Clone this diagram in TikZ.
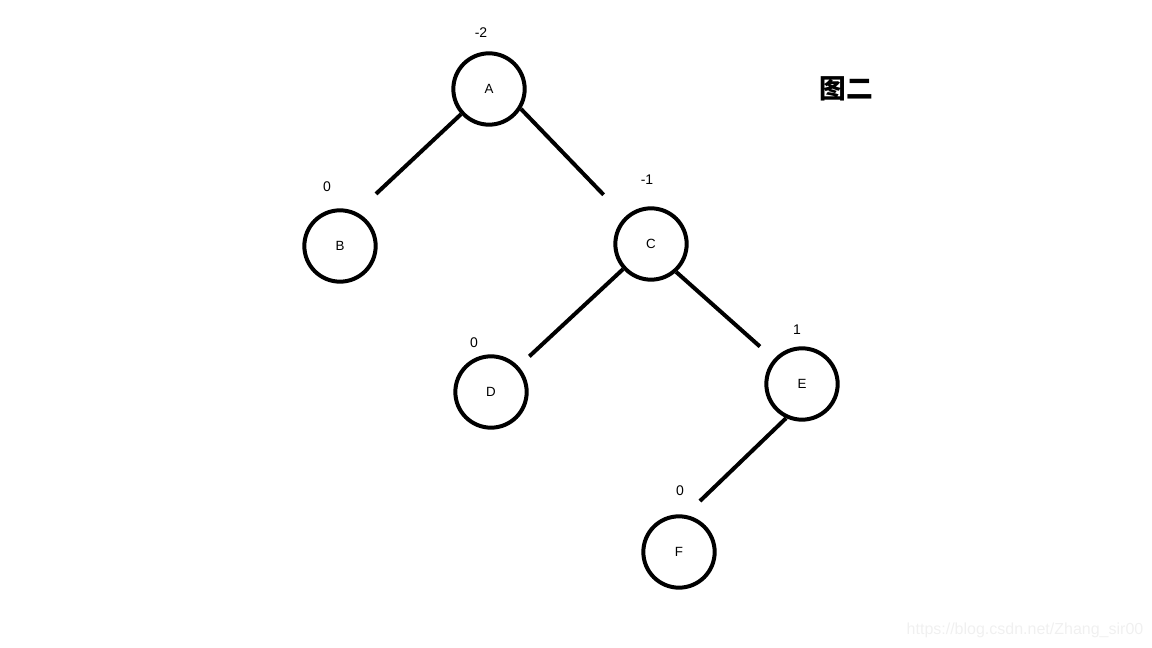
\documentclass[tikz,border=0pt]{standalone}
\usepackage{fontspec}
\setmainfont{Liberation Sans}
\newfontfamily\cjk{Noto Sans CJK SC}
\usepackage{tikz}
\usetikzlibrary{positioning}
\tikzset{
  vertex/.style={circle, draw=black, line width=3pt, minimum size=53.5pt, inner sep=0pt, font=\fontsize{10}{11}\selectfont},
  factor/.style={font=\fontsize{10.5}{11}\selectfont, inner sep=0pt},
  branch/.style={line width=3pt}
}

\begin{document}
\begin{tikzpicture}[x=0.75pt, y=-0.75pt]
        \useasboundingbox (0,0) rectangle (1152,648);
        % Nodes
        \node[vertex] (A) at (489, 89) {A};
        \node[vertex] (B) at (340, 246) {B};
        \node[vertex] (C) at (651, 244) {C};
        \node[vertex] (D) at (491, 392) {D};
        \node[vertex] (E) at (802, 384) {E};
        \node[vertex] (F) at (679, 552) {F};

        % Balance factors
        \node[factor] (fA) at (481, 33) {-2};
        \node[factor] (fB) at (327, 187) {0};
        \node[factor] (fC) at (647, 180) {-1};
        \node[factor] (fD) at (474, 343) {0};
        \node[factor] (fE) at (797, 330) {1};
        \node[factor] (fF) at (680, 491) {0};

        % Title and watermark
        \node[font=\cjk\bfseries\fontsize{20}{22}\selectfont] (title) at (846, 89) {图二};
        \node[font=\fontsize{12}{14}\selectfont, text=black!6] (mark) at (1025, 630) {https://blog.csdn.net/Zhang\_sir00};

        % Edges
        \draw[branch, shorten >=20pt] (A.222) -- (B.64);
        \draw[branch, shorten >=23pt] (A.328) -- (C);
        \draw[branch, shorten >=11pt] (C.222) -- (D);
        \draw[branch, shorten >=14pt] (C.312) -- (E);
        \draw[branch, shorten >=15pt] (E.245) -- (F.80);
\end{tikzpicture}
\end{document}
